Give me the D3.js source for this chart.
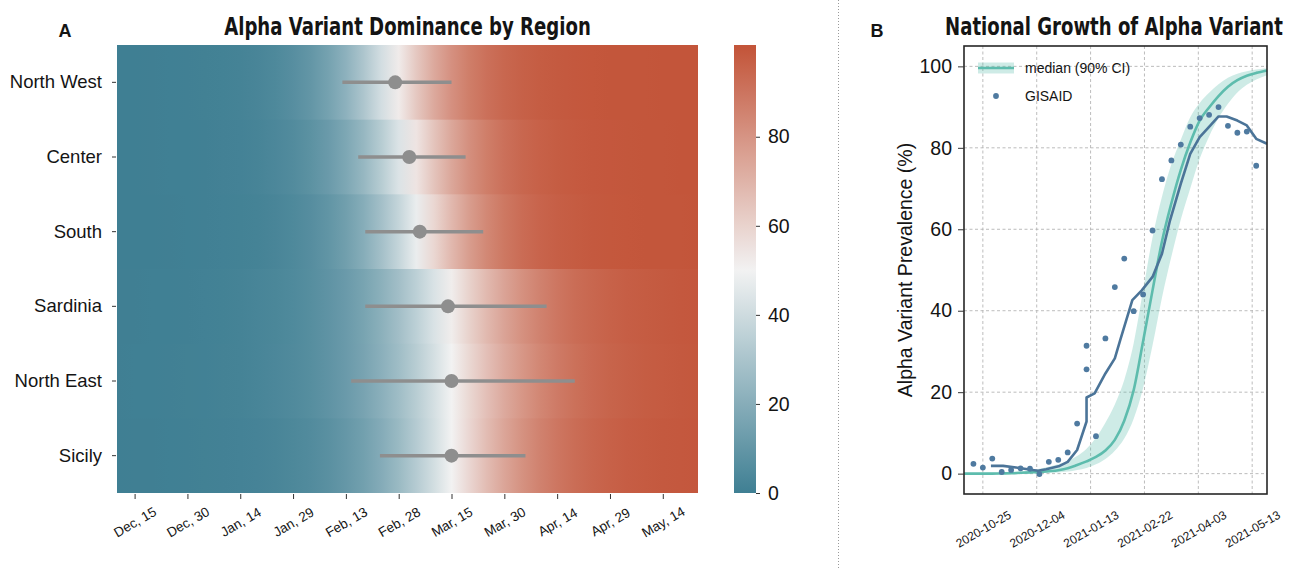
<!DOCTYPE html>
<html>
<head>
<meta charset="utf-8">
<script src="https://cdn.jsdelivr.net/npm/d3@7"></script>
<style>
  html, body { margin: 0; padding: 0; background: #fff; }
  svg { display: block; }
  text { font-family: "Liberation Sans", Arial, sans-serif; fill: #141414; }
  .title { font-family: "Liberation Sans Narrow", "DejaVu Sans Condensed", "Liberation Sans", sans-serif; font-weight: bold; font-size: 24px; }
  .panel { font-weight: bold; font-size: 18px; }
</style>
</head>
<body>
<svg id="chart" width="1303" height="568"></svg>
<script>
// ============================================
// Panel A data: regional dominance heatmap
// ============================================

const regions = ['North West', 'Center', 'South', 'Sardinia', 'North East', 'Sicily'];

// date at which each region crosses 50%, with its credible interval
const regionMedian = ['2021-02-27', '2021-03-03', '2021-03-06', '2021-03-14', '2021-03-15', '2021-03-15'];
const regionLow = ['2021-02-12', '2021-02-16T12:00', '2021-02-18T12:00', '2021-02-18T12:00', '2021-02-14T12:00', '2021-02-22T16:00'];
const regionHigh = ['2021-03-15', '2021-03-19', '2021-03-24', '2021-04-11', '2021-04-19', '2021-04-05'];

// heatmap samples (every 5 days), prevalence in %
const heatDates = [
  '2020-12-10', '2020-12-15', '2020-12-20', '2020-12-25', '2020-12-30', '2021-01-04', '2021-01-09',
  '2021-01-14', '2021-01-19', '2021-01-24', '2021-01-29', '2021-02-03', '2021-02-08', '2021-02-13',
  '2021-02-18', '2021-02-23', '2021-02-28', '2021-03-05', '2021-03-10', '2021-03-15', '2021-03-20',
  '2021-03-25', '2021-03-30', '2021-04-04', '2021-04-09', '2021-04-14', '2021-04-19', '2021-04-24',
  '2021-04-29', '2021-05-04', '2021-05-09', '2021-05-14', '2021-05-19', '2021-05-24'
];
const heatNorthWest = [0.1, 0.1, 0.2, 0.3, 0.5, 0.7, 1.2, 1.8, 2.8, 4.3, 6.7, 10.1, 15.1, 21.9, 30.6, 41.0, 52.3,
  63.3, 73.1, 81.1, 87.1, 91.4, 94.3, 96.3, 97.6, 98.5, 99.0, 99.4, 99.6, 99.7, 99.8, 99.9, 99.9, 100.0];
const heatCenter = [0.1, 0.1, 0.2, 0.3, 0.4, 0.6, 1.0, 1.5, 2.3, 3.6, 5.4, 8.1, 11.9, 17.3, 24.4, 33.3, 43.5,
  54.3, 64.8, 74.0, 81.4, 87.1, 91.3, 94.2, 96.2, 97.5, 98.3, 98.9, 99.3, 99.5, 99.7, 99.8, 99.9, 99.9];
const heatSouth = [0.1, 0.1, 0.1, 0.2, 0.3, 0.5, 0.8, 1.2, 1.8, 2.8, 4.2, 6.3, 9.5, 13.9, 19.9, 27.8, 37.2,
  47.8, 58.6, 68.6, 77.2, 83.9, 89.0, 92.6, 95.1, 96.7, 97.9, 98.6, 99.1, 99.4, 99.6, 99.8, 99.8, 99.9];
const heatSardinia = [0.2, 0.2, 0.3, 0.4, 0.6, 0.9, 1.2, 1.7, 2.4, 3.3, 4.6, 6.4, 8.8, 11.9, 16.0, 21.2, 27.6,
  35.0, 43.1, 51.7, 60.2, 68.1, 75.1, 81.0, 85.7, 89.4, 92.3, 94.4, 96.0, 97.1, 97.9, 98.5, 99.0, 99.3];
const heatNorthEast = [0.2, 0.3, 0.3, 0.5, 0.7, 0.9, 1.3, 1.8, 2.5, 3.5, 4.7, 6.5, 8.8, 11.9, 15.8, 20.9, 26.9,
  33.9, 41.7, 50.0, 58.3, 66.1, 73.1, 79.1, 84.2, 88.1, 91.2, 93.5, 95.3, 96.5, 97.5, 98.2, 98.7, 99.1];
const heatSicily = [0.1, 0.2, 0.2, 0.3, 0.5, 0.7, 1.0, 1.4, 1.9, 2.7, 3.9, 5.4, 7.6, 10.5, 14.3, 19.3, 25.5,
  32.9, 41.2, 50.0, 58.8, 67.1, 74.5, 80.7, 85.7, 89.5, 92.4, 94.6, 96.1, 97.3, 98.1, 98.6, 99.0, 99.3];
const heatRows = [heatNorthWest, heatCenter, heatSouth, heatSardinia, heatNorthEast, heatSicily];

const heatTicks = ['2020-12-15', '2020-12-30', '2021-01-14', '2021-01-29', '2021-02-13', '2021-02-28',
  '2021-03-15', '2021-03-30', '2021-04-14', '2021-04-29', '2021-05-14'];
const colorbarTicks = [0, 20, 40, 60, 80];

// ============================================
// Panel B data: national growth
// ============================================

const natDates = [
  '2020-10-11', '2020-10-18', '2020-10-25', '2020-11-01', '2020-11-08', '2020-11-15', '2020-11-22',
  '2020-11-29', '2020-12-06', '2020-12-13', '2020-12-20', '2020-12-27', '2021-01-03', '2021-01-10',
  '2021-01-17', '2021-01-24', '2021-01-31', '2021-02-07', '2021-02-14', '2021-02-21', '2021-02-28',
  '2021-03-07', '2021-03-14', '2021-03-21', '2021-03-28', '2021-04-04', '2021-04-11', '2021-04-18',
  '2021-04-25', '2021-05-02', '2021-05-09', '2021-05-16', '2021-05-23', '2021-05-24'
];
const natMedian = [0, 0, 0, 0, 0.05, 0.1, 0.2, 0.3, 0.4, 0.6, 0.85, 1.3, 2.1, 3.0, 4.1, 5.7, 8.3, 13, 20.5, 32.5,
  45, 57, 66.4, 74.6, 81.3, 86.7, 89.9, 92.7, 95, 96.6, 97.7, 98.4, 98.9, 99.0];
const natLower = [0, 0, 0, 0, 0, 0, 0, 0.05, 0.1, 0.2, 0.3, 0.5, 0.9, 1.4, 2.3, 3.6, 5.6, 8.6, 13.5, 21,
  31.5, 43.2, 53.3, 62.4, 70, 77.3, 82.8, 87.3, 90.8, 93.6, 95.5, 96.8, 97.7, 97.8];
const natUpper = [0.1, 0.1, 0.15, 0.2, 0.3, 0.4, 0.6, 0.8, 1.2, 1.7, 2.3, 3.1, 4.3, 6.1, 8.8, 12.5, 17, 23, 32, 45,
  58, 68, 76, 82, 87.5, 91, 93.5, 95.6, 97.2, 98.2, 98.8, 99.2, 99.5, 99.5];

const gisaidDates = [
  '2020-10-18', '2020-10-25', '2020-11-01', '2020-11-08', '2020-11-15', '2020-11-22', '2020-11-29',
  '2020-12-06', '2020-12-13', '2020-12-20', '2020-12-27', '2021-01-03', '2021-01-10', '2021-01-10',
  '2021-01-17', '2021-01-24', '2021-01-31', '2021-02-07', '2021-02-14', '2021-02-21', '2021-02-28',
  '2021-03-07', '2021-03-14', '2021-03-21', '2021-03-28', '2021-04-04', '2021-04-11', '2021-04-18',
  '2021-04-25', '2021-05-02', '2021-05-09', '2021-05-16'
];
const gisaidValues = [2.4, 1.5, 3.7, 0.4, 0.9, 1.3, 1.2, -0.1, 2.9, 3.4, 5.2, 12.3, 31.4, 25.6, 9.2, 33.2, 45.8,
  52.8, 39.9, 44, 59.7, 72.3, 76.9, 80.8, 85.2, 87.3, 88.1, 90, 85.4, 83.7, 84, 75.6];

// smoothed GISAID trend
const trendDates = [
  '2020-10-31', '2020-11-09', '2020-11-21', '2020-12-01', '2020-12-05', '2020-12-11', '2020-12-21',
  '2020-12-27', '2021-01-03', '2021-01-10', '2021-01-10', '2021-01-16', '2021-01-24', '2021-01-31',
  '2021-02-04', '2021-02-13', '2021-02-20', '2021-02-28', '2021-03-07', '2021-03-13', '2021-03-21',
  '2021-03-28', '2021-04-04', '2021-04-12', '2021-04-18', '2021-04-24', '2021-05-02', '2021-05-09',
  '2021-05-16', '2021-05-24'
];
const trendValues = [1.9, 1.9, 1.4, 0.9, 0.7, 1.1, 1.9, 2.9, 5.8, 12.8, 18.7, 19.7, 24.6, 28.3, 32.8, 42.6, 45,
  48.3, 54, 62.2, 71.2, 78.5, 82.6, 85.5, 87.7, 87.7, 86.7, 85.5, 82.2, 81];

const natTicks = ['2020-10-25', '2020-12-04', '2021-01-13', '2021-02-22', '2021-04-03', '2021-05-13'];
const prevalenceTicks = [0, 20, 40, 60, 80, 100];

// ============================================
// Setup
// ============================================

const parse = s => new Date(s.length > 10 ? s + 'Z' : s + 'T00:00Z');

const colors = {
  low: '#3f7f93',
  mid: '#f2f2f2',
  high: '#c3553a',
  marker: '#8e8e8e',
  median: '#5dbcad',
  trend: '#4b7498',
  gisaid: '#4f7aa0',
  grid: '#b4b4b4',
  frame: '#262626'
};

const svg = d3.select('#chart');
const defs = svg.append('defs');

// squeeze a bold title horizontally to the width it has in the figure
function fitTitle(sel, cx, baseline, width) {
  const natural = sel.node().getComputedTextLength();
  sel.attr('x', 0).attr('y', 0)
    .attr('text-anchor', 'middle')
    .attr('transform', `translate(${cx},${baseline}) scale(${Math.min(1, width / natural)},1)`);
}

// ============================================
// Panel A
// ============================================

const heat = { left: 117, right: 698, top: 45, bottom: 493 };
const xHeat = d3.scaleUtc()
  .domain([parse('2020-12-10'), parse('2021-05-24')])
  .range([heat.left, heat.right]);
const yHeat = d3.scaleBand().domain(regions).range([heat.top, heat.bottom]);
const heatColor = d3.scaleLinear()
  .domain([0, 50, 100])
  .range([colors.low, colors.mid, colors.high])
  .clamp(true);

heatRows.forEach((vals, i) => {
  const grad = defs.append('linearGradient')
    .attr('id', 'row' + i)
    .attr('gradientUnits', 'userSpaceOnUse')
    .attr('x1', heat.left).attr('x2', heat.right)
    .attr('y1', 0).attr('y2', 0);
  grad.selectAll('stop').data(vals).join('stop')
    .attr('offset', (v, j) => (xHeat(parse(heatDates[j])) - heat.left) / (heat.right - heat.left))
    .attr('stop-color', v => heatColor(v));
});

const gA = svg.append('g');

// each row overlaps the next by a pixel so no seam shows between rows
gA.selectAll('rect.row').data(regions).join('rect')
  .attr('class', 'row')
  .attr('x', heat.left)
  .attr('y', d => yHeat(d))
  .attr('width', heat.right - heat.left)
  .attr('height', (d, i) => yHeat.bandwidth() + (i < regions.length - 1 ? 1 : 0))
  .attr('fill', (d, i) => `url(#row${i})`);

const yMid = r => yHeat(r) + yHeat.bandwidth() / 2;

gA.selectAll('line.ci').data(regions).join('line')
  .attr('class', 'ci')
  .attr('x1', (r, i) => xHeat(parse(regionLow[i])))
  .attr('x2', (r, i) => xHeat(parse(regionHigh[i])))
  .attr('y1', yMid).attr('y2', yMid)
  .attr('stroke', colors.marker)
  .attr('stroke-width', 3.5);

gA.selectAll('circle.med').data(regions).join('circle')
  .attr('class', 'med')
  .attr('cx', (r, i) => xHeat(parse(regionMedian[i])))
  .attr('cy', yMid)
  .attr('r', 7)
  .attr('fill', colors.marker);

// x axis (dates)
const axHeatX = gA.append('g')
  .attr('transform', `translate(0,${heat.bottom + 1})`)
  .call(d3.axisBottom(xHeat)
    .tickValues(heatTicks.map(parse))
    .tickFormat(d3.utcFormat('%b, %d'))
    .tickSize(5));
axHeatX.select('.domain').remove();
axHeatX.selectAll('.tick line').attr('stroke', '#333');
axHeatX.selectAll('.tick text')
  .attr('y', 0).attr('dy', '0.35em')
  .attr('text-anchor', 'middle')
  .attr('transform', 'translate(0,28) rotate(-30)')
  .style('font-size', '13.5px');

// y axis (regions)
const axHeatY = gA.append('g')
  .attr('transform', `translate(${heat.left - 1},0)`)
  .call(d3.axisLeft(yHeat).tickSize(4).tickPadding(10));
axHeatY.select('.domain').remove();
axHeatY.selectAll('.tick line').attr('stroke', '#333');
axHeatY.selectAll('.tick text').style('font-size', '18.5px');

// colorbar
const cbar = { left: 734, width: 22, top: 45, bottom: 493 };
const yCbar = d3.scaleLinear().domain([0, 100.6]).range([cbar.bottom, cbar.top]);
const cgrad = defs.append('linearGradient')
  .attr('id', 'cbar')
  .attr('gradientUnits', 'userSpaceOnUse')
  .attr('x1', 0).attr('x2', 0)
  .attr('y1', cbar.bottom).attr('y2', cbar.top);
cgrad.selectAll('stop').data(d3.range(0, 101, 5)).join('stop')
  .attr('offset', v => (cbar.bottom - yCbar(v)) / (cbar.bottom - cbar.top))
  .attr('stop-color', v => heatColor(v));

gA.append('rect')
  .attr('x', cbar.left).attr('y', cbar.top)
  .attr('width', cbar.width).attr('height', cbar.bottom - cbar.top)
  .attr('fill', 'url(#cbar)');

const axCbar = gA.append('g')
  .attr('transform', `translate(${cbar.left + cbar.width},0)`)
  .call(d3.axisRight(yCbar).tickValues(colorbarTicks).tickSize(4).tickPadding(8));
axCbar.select('.domain').remove();
axCbar.selectAll('.tick line').attr('stroke', '#333');
axCbar.selectAll('.tick text').style('font-size', '19.5px');

gA.append('text')
  .attr('class', 'title')
  .text('Alpha Variant Dominance by Region')
  .call(fitTitle, (heat.left + heat.right) / 2, 35, 367);

gA.append('text')
  .attr('class', 'panel')
  .attr('x', 65).attr('y', 37)
  .attr('text-anchor', 'middle')
  .text('A');

// separator between panels
svg.append('line')
  .attr('x1', 838.5).attr('x2', 838.5)
  .attr('y1', 0).attr('y2', 568)
  .attr('stroke', '#9a9a9a')
  .attr('stroke-width', 1)
  .attr('stroke-dasharray', '1,2');

// ============================================
// Panel B
// ============================================

const nat = { left: 964, right: 1267, top: 46, bottom: 494 };
const xNat = d3.scaleUtc()
  .domain([parse('2020-10-11'), parse('2021-05-24')])
  .range([nat.left, nat.right]);
const yNat = d3.scaleLinear().domain([-5, 105]).range([nat.bottom, nat.top]);

const gB = svg.append('g');

defs.append('clipPath').attr('id', 'natClip')
  .append('rect')
  .attr('x', nat.left).attr('y', nat.top)
  .attr('width', nat.right - nat.left).attr('height', nat.bottom - nat.top);

// grid
const grid = gB.append('g');
grid.selectAll('line.gx').data(natTicks.map(parse)).join('line')
  .attr('x1', d => xNat(d)).attr('x2', d => xNat(d))
  .attr('y1', nat.top).attr('y2', nat.bottom)
  .attr('stroke', colors.grid).attr('stroke-width', 0.9)
  .attr('stroke-dasharray', '3,2.5');
grid.selectAll('line.gy').data(prevalenceTicks).join('line')
  .attr('x1', nat.left).attr('x2', nat.right)
  .attr('y1', d => yNat(d)).attr('y2', d => yNat(d))
  .attr('stroke', colors.grid).attr('stroke-width', 0.9)
  .attr('stroke-dasharray', '3,2.5');

const natRows = natDates.map((d, i) => ({
  date: parse(d), median: natMedian[i], lower: natLower[i], upper: natUpper[i]
}));

const plot = gB.append('g').attr('clip-path', 'url(#natClip)');

plot.append('path')
  .datum(natRows)
  .attr('fill', colors.median)
  .attr('fill-opacity', 0.3)
  .attr('d', d3.area()
    .x(d => xNat(d.date))
    .y0(d => yNat(d.lower))
    .y1(d => yNat(d.upper))
    .curve(d3.curveMonotoneX));

plot.append('path')
  .datum(natRows)
  .attr('fill', 'none')
  .attr('stroke', colors.median)
  .attr('stroke-width', 2.6)
  .attr('d', d3.line()
    .x(d => xNat(d.date))
    .y(d => yNat(d.median))
    .curve(d3.curveMonotoneX));

plot.append('path')
  .datum(trendDates.map((d, i) => ({ date: parse(d), value: trendValues[i] })))
  .attr('fill', 'none')
  .attr('stroke', colors.trend)
  .attr('stroke-width', 2.6)
  .attr('stroke-linejoin', 'round')
  .attr('d', d3.line()
    .x(d => xNat(d.date))
    .y(d => yNat(d.value)));

plot.selectAll('circle.gisaid')
  .data(gisaidDates.map((d, i) => ({ date: parse(d), value: gisaidValues[i] })))
  .join('circle')
  .attr('class', 'gisaid')
  .attr('cx', d => xNat(d.date))
  .attr('cy', d => yNat(d.value))
  .attr('r', 2.9)
  .attr('fill', colors.gisaid);

// frame
gB.append('rect')
  .attr('x', nat.left).attr('y', nat.top)
  .attr('width', nat.right - nat.left).attr('height', nat.bottom - nat.top)
  .attr('fill', 'none')
  .attr('stroke', colors.frame)
  .attr('stroke-width', 1.6);

// axes
const axNatY = gB.append('g')
  .attr('transform', `translate(${nat.left},0)`)
  .call(d3.axisLeft(yNat).tickValues(prevalenceTicks).tickSize(6).tickPadding(6));
axNatY.select('.domain').remove();
axNatY.selectAll('.tick line').attr('stroke', '#333');
axNatY.selectAll('.tick text').style('font-size', '19.5px');

const axNatX = gB.append('g')
  .attr('transform', `translate(0,${nat.bottom})`)
  .call(d3.axisBottom(xNat)
    .tickValues(natTicks.map(parse))
    .tickFormat(d3.utcFormat('%Y-%m-%d'))
    .tickSize(0));
axNatX.select('.domain').remove();
axNatX.selectAll('.tick text')
  .attr('y', 0).attr('dy', '0.35em')
  .attr('text-anchor', 'middle')
  .attr('transform', 'translate(0,35) rotate(-30)')
  .style('font-size', '12px');

gB.append('text')
  .attr('transform', `translate(905,${(nat.top + nat.bottom) / 2}) rotate(-90)`)
  .attr('text-anchor', 'middle')
  .attr('dy', '0.35em')
  .style('font-size', '19.5px')
  .text('Alpha Variant Prevalence (%)');

gB.append('text')
  .attr('class', 'title')
  .text('National Growth of Alpha Variant')
  .call(fitTitle, 1114, 35, 338);

gB.append('text')
  .attr('class', 'panel')
  .attr('x', 877).attr('y', 37)
  .attr('text-anchor', 'middle')
  .text('B');

// legend
const legend = gB.append('g').attr('transform', 'translate(978,68)');
legend.append('rect')
  .attr('x', 0).attr('y', -5.5)
  .attr('width', 36).attr('height', 11)
  .attr('fill', colors.median).attr('fill-opacity', 0.3);
legend.append('line')
  .attr('x1', 0).attr('x2', 36)
  .attr('stroke', colors.median).attr('stroke-width', 2.6);
legend.append('text')
  .attr('x', 47).attr('dy', '0.35em')
  .style('font-size', '14px')
  .text('median (90% CI)');
legend.append('circle')
  .attr('cx', 18).attr('cy', 28).attr('r', 2.9)
  .attr('fill', colors.gisaid);
legend.append('text')
  .attr('x', 47).attr('y', 28).attr('dy', '0.35em')
  .style('font-size', '14px')
  .text('GISAID');
</script>
</body>
</html>
